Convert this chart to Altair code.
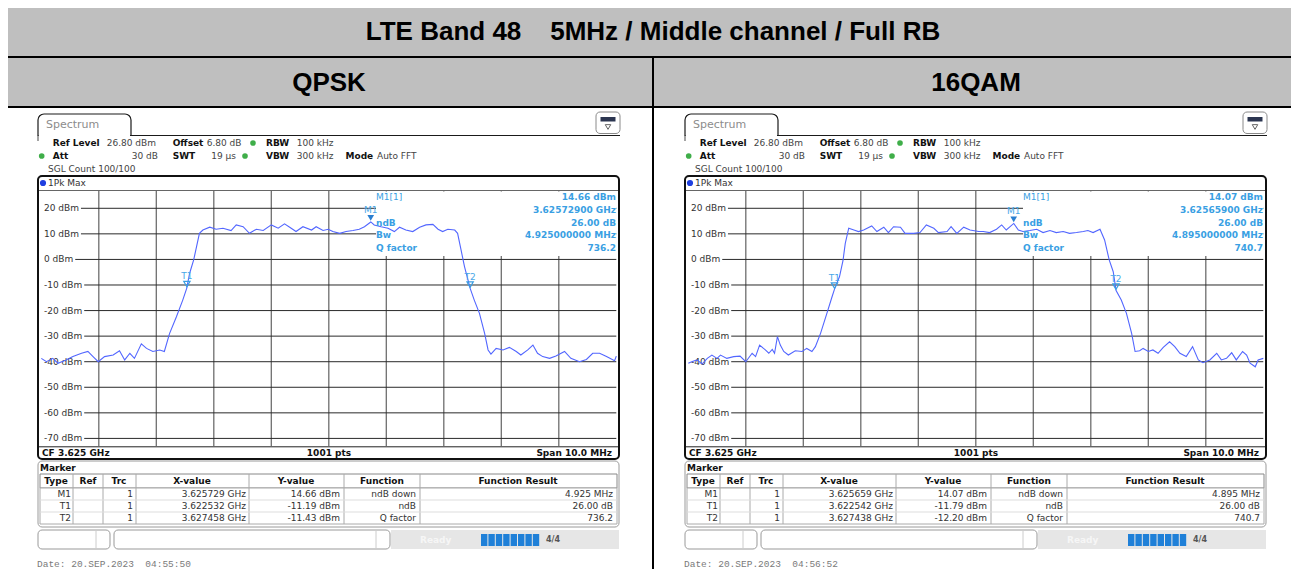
import altair as alt
import pandas as pd

# ------------------------------------------------------------------ data
title = "LTE Band 48\u00a0\u00a0\u00a0\u00a05MHz / Middle channel / Full RB"
panel_names = ["QPSK", "16QAM"]

# frequency offset from CF 3.625 GHz (MHz), level (dBm)
qpsk_freq = [-5.00, -4.91, -4.80, -4.71, -4.57, -4.45, -4.30, -4.19, -4.10, -4.01,
             -3.90, -3.75, -3.64, -3.55, -3.46, -3.38, -3.26, -3.17, -3.06, -2.94,
             -2.86, -2.77, -2.65, -2.54, -2.47, -2.42, -2.35, -2.30, -2.25, -2.19,
             -2.07, -1.96, -1.84, -1.70, -1.61, -1.49, -1.38, -1.26, -1.14, -1.00,
             -0.88, -0.77, -0.68, -0.57, -0.45, -0.30, -0.22, -0.10, -0.01, 0.07,
             0.19, 0.30, 0.42, 0.53, 0.62, 0.73, 0.79, 0.91, 1.03, 1.14,
             1.23, 1.34, 1.46, 1.58, 1.69, 1.81, 1.90, 1.98, 2.07, 2.19,
             2.24, 2.30, 2.36, 2.46, 2.53, 2.62, 2.71, 2.77, 2.82, 2.91,
             3.03, 3.14, 3.26, 3.34, 3.46, 3.55, 3.63, 3.72, 3.84, 3.95,
             4.10, 4.21, 4.36, 4.48, 4.59, 4.71, 4.83, 4.97, 5.00]
qpsk_dbm = [-38.7, -40.0, -38.7, -40.6, -39.3, -38.0, -36.7, -36.0, -38.0, -40.0,
            -38.0, -37.4, -35.7, -39.3, -36.7, -38.7, -33.0, -34.8, -36.0, -35.4,
            -36.0, -29.0, -22.4, -15.9, -11.2, -5.4, -0.2, 5.0, 10.2, 11.5,
            12.6, 11.8, 12.2, 11.3, 13.5, 12.8, 10.2, 11.8, 11.3, 13.5,
            12.2, 13.9, 12.6, 10.9, 12.8, 11.5, 12.8, 11.3, 11.8, 10.9,
            10.2, 10.9, 11.3, 11.8, 12.8, 14.66, 13.5, 12.8, 12.2, 10.9,
            12.6, 11.5, 10.9, 12.6, 13.5, 13.7, 11.8, 10.9, 11.8, 11.5,
            10.2, 3.7, -2.8, -11.43, -15.9, -21.1, -28.9, -35.4, -37.0, -34.8,
            -35.4, -34.4, -36.0, -37.4, -35.4, -33.5, -36.7, -38.0, -38.7, -37.8,
            -36.0, -38.7, -40.0, -39.1, -36.7, -36.7, -38.0, -39.6, -37.8]

qam_freq = [-5.00, -4.94, -4.85, -4.76, -4.67, -4.59, -4.50, -4.44, -4.33, -4.21,
            -4.10, -4.00, -3.89, -3.83, -3.76, -3.66, -3.60, -3.54, -3.50, -3.45,
            -3.40, -3.34, -3.26, -3.14, -3.02, -2.94, -2.85, -2.79, -2.70, -2.59,
            -2.50, -2.46, -2.37, -2.31, -2.27, -2.21, -2.12, -2.04, -1.95, -1.81,
            -1.72, -1.60, -1.52, -1.43, -1.31, -1.23, -1.08, -0.97, -0.86, -0.73,
            -0.65, -0.50, -0.43, -0.33, -0.21, -0.10, 0.05, 0.13, 0.24, 0.36,
            0.45, 0.53, 0.66, 0.74, 0.82, 0.94, 1.06, 1.17, 1.29, 1.40,
            1.52, 1.63, 1.75, 1.87, 1.95, 2.04, 2.16, 2.24, 2.32, 2.39,
            2.44, 2.53, 2.62, 2.71, 2.77, 2.85, 2.91, 3.00, 3.08, 3.17,
            3.26, 3.37, 3.46, 3.55, 3.66, 3.77, 3.87, 3.95, 4.07, 4.19,
            4.27, 4.36, 4.45, 4.53, 4.64, 4.71, 4.77, 4.86, 4.91, 5.00]
qam_dbm = [-40.6, -40.0, -39.3, -40.9, -38.7, -37.4, -38.7, -37.4, -38.7, -38.0,
           -37.8, -40.0, -36.7, -38.0, -33.5, -35.4, -36.7, -35.2, -36.7, -30.2,
           -33.5, -36.0, -37.4, -35.7, -36.0, -34.8, -36.0, -34.1, -28.9, -21.1,
           -14.6, -11.79, -6.7, -0.5, 6.3, 12.2, 11.5, 10.9, 11.5, 13.1,
           10.9, 12.6, 10.5, 12.8, 12.6, 10.2, 10.2, 10.5, 13.5, 12.2,
           10.5, 10.9, 12.8, 10.2, 12.6, 11.5, 10.9, 10.9, 10.5, 11.8,
           13.5, 11.5, 14.07, 11.5, 10.9, 11.3, 11.8, 10.5, 11.3, 10.5,
           10.9, 10.2, 10.5, 10.9, 11.3, 10.5, 11.8, 7.6, -0.2, -4.8,
           -12.2, -15.9, -21.1, -28.9, -36.0, -35.7, -34.8, -36.0, -35.4, -36.7,
           -34.4, -32.2, -34.1, -36.7, -38.0, -34.1, -39.3, -40.4, -39.3, -36.7,
           -39.3, -38.7, -36.5, -39.3, -36.0, -37.4, -40.6, -42.0, -39.3, -38.7]

grid_freq = [-4, -3, -2, -1, 0, 1, 2, 3, 4]
grid_dbm = [20, 10, 0, -10, -20, -30, -40, -50, -60, -70]
dbm_labels = [f"{v} dBm" for v in grid_dbm]
span_domain = [-5, 5]
level_domain = [-73.2, 26.8]

marker_names = ["M1", "T1", "T2"]
qpsk_marker_f = [0.729, -2.468, 2.458]
qpsk_marker_db = [14.66, -11.19, -11.43]
qam_marker_f = [0.659, -2.458, 2.438]
qam_marker_db = [14.07, -11.79, -12.20]

table_headers = ["Type", "Ref", "Trc", "X-value", "Y-value", "Function", "Function Result"]
functions = ["ndB down", "ndB", "Q factor"]
qpsk_xvals = ["3.625729 GHz", "3.622532 GHz", "3.627458 GHz"]
qpsk_yvals = ["14.66 dBm", "-11.19 dBm", "-11.43 dBm"]
qpsk_results = ["4.925 MHz", "26.00 dB", "736.2"]
qam_xvals = ["3.625659 GHz", "3.622542 GHz", "3.627438 GHz"]
qam_yvals = ["14.07 dBm", "-11.79 dBm", "-12.20 dBm"]
qam_results = ["4.895 MHz", "26.00 dB", "740.7"]

info_labels = ["M1[1]", "", "ndB", "Bw", "Q factor"]
qpsk_info = ["14.66 dBm", "3.62572900 GHz", "26.00 dB", "4.925000000 MHz", "736.2"]
qam_info = ["14.07 dBm", "3.62565900 GHz", "26.00 dB", "4.895000000 MHz", "740.7"]
dates = ["Date: 20.SEP.2023\u00a0\u00a004:55:50", "Date: 20.SEP.2023\u00a0\u00a004:56:52"]

header_row1 = [("Ref Level", "b"), ("26.80 dBm", "n"), ("Offset", "b"), ("6.80 dB", "n"),
               ("RBW", "b"), ("100 kHz", "n")]
header_row2 = [("Att", "b"), ("30 dB", "n"), ("SWT", "b"), ("19 \u00b5s", "n"),
               ("VBW", "b"), ("300 kHz", "n"), ("Mode", "b"), ("Auto FFT", "n")]
sgl_count = "SGL Count 100/100"
trace_name = "1Pk Max"
footer = ["CF 3.625 GHz", "1001 pts", "Span 10.0 MHz"]

# ------------------------------------------------------------------ layout
OX, OY = 8, 8
W, H = 1283, 561
DX = [0, 647]
TRACE = "#5266ff"
CYAN = "#3a9fe3"


def X(v):
    return v - OX


def Y(v):
    return v - OY


rects_rd, rects_sq, rects_tab, rules, dots, texts = [], [], [], [], [], []


def rect(lst, x1, y1, x2, y2, fill="white", stroke="transparent", sw=0):
    lst.append(dict(x=X(x1), y=Y(y1), x2=X(x2), y2=Y(y2), fill=fill, stroke=stroke, sw=sw))


def rule(x1, y1, x2, y2, color="#000", sw=1.0):
    rules.append(dict(x=X(x1), y=Y(y1), x2=X(x2), y2=Y(y2), c=color, sw=sw))


def text(x, y, t, size=9, color="#222", align="left", weight="normal", font="DejaVu Sans"):
    texts.append(dict(x=X(x), y=Y(y), t=t, s=size, c=color, align=align, weight=weight, font=font))


# outer table
rect(rects_sq, 5, 5, 1297, 57, fill="#bfbfbf")
rect(rects_sq, 5, 57, 1297, 107, fill="#bfbfbf")
for yy in (5.5, 57, 107):
    rule(5, yy, 1297, yy, "#000", 2)
rule(5.5, 5, 5.5, 577, "#000", 2)
rule(653, 57, 653, 577, "#000", 2)
rule(1296.5, 5, 1296.5, 577, "#000", 2)
text(653, 32, title, size=26, color="#000", align="center", weight="bold", font="Liberation Sans")
text(329, 83, panel_names[0], size=26, color="#000", align="center", weight="bold", font="Liberation Sans")
text(976, 83, panel_names[1], size=26, color="#000", align="center", weight="bold", font="Liberation Sans")

row1_x = [52.7, 106.7, 172.7, 206.7, 266, 296.7]
row2_x = [52.7, 158, 172.7, 236, 266, 296.7, 345.5, 377]
row2_align = ["left", "right", "left", "right", "left", "left", "left", "left"]
hdr_x = [56, 88, 119, 192, 296, 382, 518]
col_sep = [73, 103, 136, 249, 344, 420]
val_x = [71, 133, 246, 340, 416, 613]

panels = [
    (qpsk_xvals, qpsk_yvals, qpsk_results, qpsk_info),
    (qam_xvals, qam_yvals, qam_results, qam_info),
]

for i, dx in enumerate(DX):
    xv, yv, res, info = panels[i]
    # tab + icon
    rect(rects_tab, 38 + dx, 114, 131 + dx, 135.5, fill="white", stroke="#1a1a1a", sw=1.2)
    rule(39 + dx, 135.5, 130 + dx, 135.5, "white", 2.6)
    rule(130.5 + dx, 135.5, 620 + dx, 135.5, "#1a1a1a", 1.2)
    rule(38 + dx, 135, 38 + dx, 141, "#666", 1.2)
    text(46 + dx, 125, "Spectrum", size=11, color="#8c8c8c")
    rect(rects_rd, 596 + dx, 112, 620 + dx, 133.5, fill="white", stroke="#8a8a8a", sw=1)
    rect(rects_sq, 600.5 + dx, 117, 615.5 + dx, 121.5, fill="#2b3550")
    # instrument settings
    for (t, w), xx in zip(header_row1, row1_x):
        text(xx + dx, 143, t, color="#111" if w == "b" else "#444", weight="bold" if w == "b" else "normal")
    for (t, w), xx, al in zip(header_row2, row2_x, row2_align):
        text(xx + dx, 156, t, color="#111" if w == "b" else "#444", weight="bold" if w == "b" else "normal", align=al)
    text(48 + dx, 169, sgl_count, color="#444")
    dots.append(dict(x=X(253 + dx), y=Y(143), c="#3fae49", s=32))
    dots.append(dict(x=X(41.7 + dx), y=Y(156), c="#3fae49", s=32))
    dots.append(dict(x=X(245 + dx), y=Y(156), c="#3fae49", s=32))
    # trace window
    rect(rects_rd, 38 + dx, 176, 619 + dx, 459, fill="white", stroke="#111", sw=2)
    rule(39 + dx, 190.5, 618 + dx, 190.5, "#666", 1)
    rule(39 + dx, 446.8, 618 + dx, 446.8, "#222", 1)
    dots.append(dict(x=X(43 + dx), y=Y(183), c="#1f3fe0", s=38))
    text(48 + dx, 183, trace_name, color="#333")
    text(42 + dx, 452.5, footer[0], weight="bold", color="#111")
    text(329 + dx, 452.5, footer[1], weight="bold", color="#111", align="center")
    text(612 + dx, 452.5, footer[2], weight="bold", color="#111", align="right")
    # marker info (in plot)
    for k, (lab, val) in enumerate(zip(info_labels, info)):
        yy = [197, 210, 222.5, 235, 248][k]
        if lab:
            text(376 + dx, yy, lab, color=CYAN, weight="normal" if k == 0 else "bold")
        text(616 + dx, yy, val, color=CYAN, weight="bold", align="right")
    # marker table
    rect(rects_rd, 38 + dx, 461, 619 + dx, 527, fill="white", stroke="#9a9a9a", sw=1)
    text(40 + dx, 467.5, "Marker", weight="bold", color="#111")
    rect(rects_sq, 40 + dx, 474, 617 + dx, 488, fill="white", stroke="#888", sw=1)
    rect(rects_sq, 40 + dx, 488, 617 + dx, 524, fill="white", stroke="#aaa", sw=1)
    for cx in col_sep:
        rule(cx + dx, 474, cx + dx, 524, "#aaa", 1)
    rule(40 + dx, 500, 617 + dx, 500, "#ddd", 1)
    rule(40 + dx, 512, 617 + dx, 512, "#ddd", 1)
    for hx, h in zip(hdr_x, table_headers):
        text(hx + dx, 481, h, weight="bold", color="#111", align="center")
    for r in range(3):
        yy = 493.5 + 12 * r
        row = [marker_names[r], "1", xv[r], yv[r], functions[r], res[r]]
        for vx, t in zip(val_x, row):
            text(vx + dx, yy, t, color="#333", align="right")
    # status bar
    rect(rects_rd, 38 + dx, 530, 110 + dx, 549, fill="white", stroke="#999", sw=1)
    rect(rects_rd, 114 + dx, 530, 390 + dx, 549, fill="white", stroke="#999", sw=1)
    rule(96 + dx, 531, 96 + dx, 548, "#ccc", 1)
    rule(376 + dx, 531, 376 + dx, 548, "#ccc", 1)
    rect(rects_sq, 391 + dx, 530, 619 + dx, 549, fill="#e6e6e6")
    for k in range(8):
        x1 = 481 + k * 7.4
        rect(rects_sq, x1 + dx, 534, x1 + 6.4 + dx, 546, fill="#1f80d8")
    text(420 + dx, 539.5, "Ready", weight="bold", color="#f6f6f6")
    text(546 + dx, 540, "4/4", size=8, weight="bold", color="#555")
    text(37 + dx, 564, dates[i], size=9.5, color="#7a7a7a", font="Liberation Mono")

# ------------------------------------------------------------------ layers
NOAX = dict(axis=None)


def rect_layer(lst, **mk):
    df = pd.DataFrame(lst)
    return alt.Chart(df).mark_rect(**mk).encode(
        x=alt.X("x:Q", scale=None, **NOAX), x2="x2:Q",
        y=alt.Y("y:Q", scale=None, **NOAX), y2="y2:Q",
        fill=alt.Fill("fill:N", scale=None),
        stroke=alt.Stroke("stroke:N", scale=None),
        strokeWidth=alt.StrokeWidth("sw:Q", scale=None),
    )


layers = [
    rect_layer(rects_rd, cornerRadius=4),
    rect_layer(rects_sq),
    rect_layer(rects_tab, cornerRadiusTopLeft=6, cornerRadiusTopRight=6),
    alt.Chart(pd.DataFrame(rules)).mark_rule().encode(
        x=alt.X("x:Q", scale=None, **NOAX), x2="x2:Q",
        y=alt.Y("y:Q", scale=None, **NOAX), y2="y2:Q",
        color=alt.Color("c:N", scale=None),
        strokeWidth=alt.StrokeWidth("sw:Q", scale=None),
    ),
]


def label_end(lab):
    wd = {"-": 3.25, " ": 2.86, "d": 5.72, "B": 6.17, "m": 8.77}
    return 44 + sum(wd.get(ch, 5.72) for ch in lab) + 2


traces = [(qpsk_freq, qpsk_dbm, qpsk_marker_f, qpsk_marker_db),
          (qam_freq, qam_dbm, qam_marker_f, qam_marker_db)]

for i, dx in enumerate(DX):
    fr, db, mf, mdb = traces[i]
    xsc = alt.Scale(domain=span_domain, range=[X(41.3 + dx), X(616.3 + dx)], nice=False, zero=False)
    ysc = alt.Scale(domain=level_domain, range=[Y(446.6), Y(190.9)], nice=False, zero=False)
    vg = alt.Chart(pd.DataFrame({"f": grid_freq})).mark_rule(color="#6e6e6e", strokeWidth=1.3).encode(
        x=alt.X("f:Q", scale=xsc, axis=None), y=alt.value(Y(191)), y2=alt.value(Y(446)))
    hg_df = pd.DataFrame({"v": grid_dbm, "lab": dbm_labels,
                          "x0": [X(label_end(l) + dx) for l in dbm_labels]})
    hg = alt.Chart(hg_df).mark_rule(color="#2a2a2a", strokeWidth=1).encode(
        x=alt.X("x0:Q", scale=None, axis=None), x2=alt.value(X(616.3 + dx)),
        y=alt.Y("v:Q", scale=ysc, axis=None))
    lab = alt.Chart(hg_df).mark_text(align="left", baseline="middle", font="DejaVu Sans",
                                     fontSize=9, color="#333").encode(
        x=alt.value(X(44 + dx)), y=alt.Y("v:Q", scale=ysc, axis=None), text="lab:N")
    box = alt.Chart(pd.DataFrame({"a": [0]})).mark_rect(color="white").encode(
        x=alt.value(X(376 + dx)), x2=alt.value(X(616 + dx)),
        y=alt.value(Y(191.5)), y2=alt.value(Y(256)))
    line = alt.Chart(pd.DataFrame({"f": fr, "db": db})).mark_line(color=TRACE, strokeWidth=1.1).encode(
        x=alt.X("f:Q", scale=xsc, axis=None), y=alt.Y("db:Q", scale=ysc, axis=None))
    mk_df = pd.DataFrame({"f": mf, "db": mdb, "name": marker_names})
    m1 = alt.Chart(mk_df.iloc[:1]).mark_point(shape="triangle-down", filled=True, size=45,
                                              color="#2a7fd0", yOffset=-4, opacity=1).encode(
        x=alt.X("f:Q", scale=xsc, axis=None), y=alt.Y("db:Q", scale=ysc, axis=None))
    tm = alt.Chart(mk_df.iloc[1:]).mark_point(shape="triangle-down", filled=False, size=40,
                                              color="#3a9fe3", strokeWidth=1.2, yOffset=-4, opacity=1).encode(
        x=alt.X("f:Q", scale=xsc, axis=None), y=alt.Y("db:Q", scale=ysc, axis=None))
    ml = alt.Chart(mk_df).mark_text(align="center", baseline="middle", dy=-12, font="DejaVu Sans",
                                    fontSize=9, color="#4aa8e8").encode(
        x=alt.X("f:Q", scale=xsc, axis=None), y=alt.Y("db:Q", scale=ysc, axis=None), text="name:N")
    layers += [vg, hg, lab, box, line, m1, tm, ml]

layers.append(alt.Chart(pd.DataFrame(dots)).mark_point(filled=True, shape="circle", opacity=1).encode(
    x=alt.X("x:Q", scale=None, axis=None), y=alt.Y("y:Q", scale=None, axis=None),
    color=alt.Color("c:N", scale=None), size=alt.Size("s:Q", scale=None)))

icon_tris = pd.DataFrame({"x": [X(608 + d) for d in DX], "y": [Y(127) for _ in DX]})
layers.append(alt.Chart(icon_tris).mark_point(shape="triangle-down", filled=False, size=30,
                                              color="#666", strokeWidth=1, opacity=1).encode(
    x=alt.X("x:Q", scale=None, axis=None), y=alt.Y("y:Q", scale=None, axis=None)))

tdf = pd.DataFrame(texts)
for (al, wt, fn), g in tdf.groupby(["align", "weight", "font"]):
    layers.append(alt.Chart(g.reset_index(drop=True)).mark_text(
        align=al, baseline="middle", fontWeight=wt, font=fn).encode(
        x=alt.X("x:Q", scale=None, axis=None), y=alt.Y("y:Q", scale=None, axis=None),
        text="t:N", color=alt.Color("c:N", scale=None), size=alt.Size("s:Q", scale=None)))

chart = alt.layer(*layers).resolve_scale(x="independent", y="independent").properties(
    width=W, height=H, padding=0, autosize=alt.AutoSizeParams(type="none"),
    background="white",
).configure_view(strokeWidth=0)

chart.save("out.html", embed_options={"renderer": "svg", "actions": False})
